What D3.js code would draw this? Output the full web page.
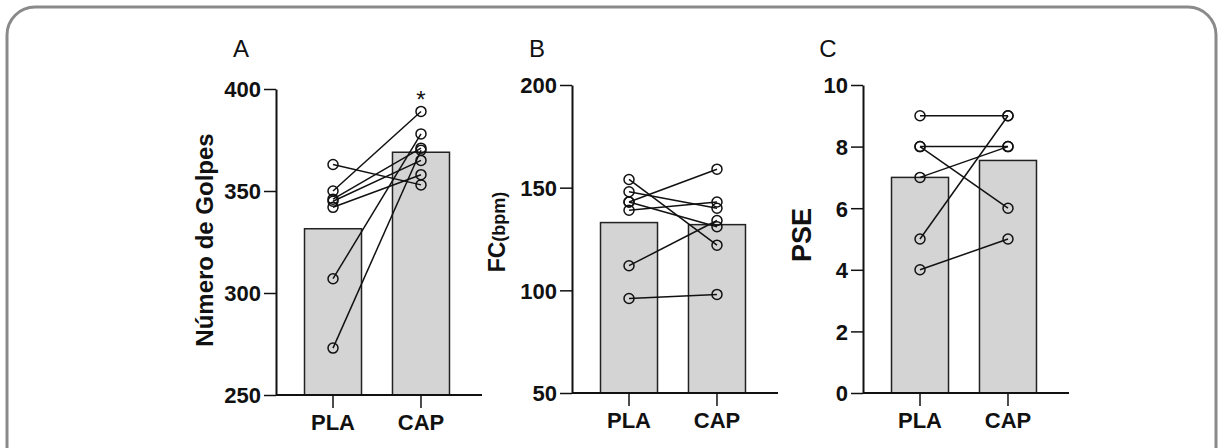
<!DOCTYPE html>
<html><head><meta charset="utf-8">
<script src="https://cdn.jsdelivr.net/npm/d3@7"></script>
<style>body{margin:0;background:#fff}svg{display:block}</style>
</head><body>
<svg id="c" width="1219" height="448"></svg>
<script>
const categories = ["PLA", "CAP"];
// Panel A: Número de Golpes
const golpesPLA = [363, 350, 346, 345, 342, 307, 273];
const golpesCAP = [353, 389, 371, 365, 358, 378, 370];
const golpesBars = [331.5, 369];
const golpesTicks = [250, 300, 350, 400];
// Panel B: FC (bpm)
const fcPLA = [154, 148, 143, 143, 139, 112, 96];
const fcCAP = [122, 140, 159, 131, 143, 134, 98];
const fcBars = [133, 132];
const fcTicks = [50, 100, 150, 200];
// Panel C: PSE
const psePLA = [9, 8, 8, 7, 5, 4];
const pseCAP = [9, 8, 6, 8, 9, 5];
const pseBars = [7.0, 7.55];
const pseTicks = [0, 2, 4, 6, 8, 10];

const svg = d3.select("#c");
const font = "'Liberation Sans', Arial, sans-serif";

svg.append("rect").attr("x", 7).attr("y", 7).attr("width", 1209).attr("height", 500)
  .attr("rx", 28).attr("fill", "none").attr("stroke", "#8a8a8a").attr("stroke-width", 3);

const panels = [
  {letter: "A", ax: 276, yTop: 89, yBot: 395, dom: [250, 400], ticks: golpesTicks, pla: golpesPLA, cap: golpesCAP, bars: golpesBars,
   label: "Número de Golpes", labelSize: 24, labelX: 204, labelY: 240, star: true},
  {letter: "B", ax: 572, yTop: 85, yBot: 393, dom: [50, 200], ticks: fcTicks, pla: fcPLA, cap: fcCAP, bars: fcBars,
   label: "FC", labelSize: 23, sub: "(bpm)", labelX: 497, labelY: 232},
  {letter: "C", ax: 863, yTop: 85, yBot: 393, dom: [0, 10], ticks: pseTicks, pla: psePLA, cap: pseCAP, bars: pseBars,
   label: "PSE", labelSize: 27, labelX: 801, labelY: 235}
];

panels.forEach(p => {
  const g = svg.append("g");
  const y = d3.scaleLinear().domain(p.dom).range([p.yBot, p.yTop]);
  const x = d3.scaleBand().domain(categories).range([p.ax, p.ax + 202]).paddingInner(0.352).paddingOuter(0.324);
  const cx = c => x(c) + x.bandwidth() / 2;

  g.selectAll("rect.bar").data(p.bars).join("rect")
    .attr("x", (d, i) => x(categories[i])).attr("y", d => y(d))
    .attr("width", x.bandwidth()).attr("height", d => p.yBot - y(d))
    .attr("fill", "#d4d4d4").attr("stroke", "#222").attr("stroke-width", 1.5);

  const ya = g.append("g").attr("transform", `translate(${p.ax},0)`)
    .call(d3.axisLeft(y).tickValues(p.ticks).tickSize(12).tickPadding(3).tickSizeOuter(0));
  ya.select(".domain").attr("stroke", "#111").attr("stroke-width", 2);
  ya.selectAll(".tick line").attr("stroke", "#111").attr("stroke-width", 1.5);
  ya.selectAll(".tick text").attr("font-family", font).attr("font-weight", "bold")
    .attr("font-size", 22).attr("fill", "#111").attr("dy", "0.36em");

  const xa = g.append("g").attr("transform", `translate(0,${p.yBot})`)
    .call(d3.axisBottom(x).tickSize(13).tickPadding(6).tickSizeOuter(0));
  xa.select(".domain").attr("d", `M${p.ax},0H${p.ax + 206}`).attr("stroke", "#111").attr("stroke-width", 2);
  xa.selectAll(".tick line").attr("stroke", "#111").attr("stroke-width", 1.5);
  xa.selectAll(".tick text").attr("font-family", font).attr("font-weight", "bold")
    .attr("font-size", 22).attr("fill", "#111");

  g.selectAll("line.pair").data(p.pla).join("line")
    .attr("x1", cx("PLA")).attr("y1", d => y(d))
    .attr("x2", cx("CAP")).attr("y2", (d, i) => y(p.cap[i]))
    .attr("stroke", "#111").attr("stroke-width", 1.5);

  const pts = [];
  p.pla.forEach(v => pts.push([cx("PLA"), y(v)]));
  p.cap.forEach(v => pts.push([cx("CAP"), y(v)]));
  g.selectAll("circle").data(pts).join("circle")
    .attr("cx", d => d[0]).attr("cy", d => d[1]).attr("r", 5)
    .attr("fill", "none").attr("stroke", "#111").attr("stroke-width", 1.5);

  svg.append("text").attr("x", p.ax - 35).attr("y", 57).attr("font-family", font)
    .attr("font-size", 24).attr("fill", "#111").attr("text-anchor", "middle").text(p.letter);

  const t = svg.append("text").attr("transform", `translate(${p.labelX},${p.labelY}) rotate(-90)`)
    .attr("text-anchor", "middle").attr("dy", "0.36em").attr("font-family", font).attr("font-weight", "bold")
    .attr("font-size", p.labelSize).attr("fill", "#111");
  t.append("tspan").text(p.label);
  if (p.sub) t.append("tspan").attr("font-size", 18).text(p.sub);

  if (p.star) {
    svg.append("text").attr("x", cx("CAP")).attr("y", 108).attr("text-anchor", "middle")
      .attr("font-family", font).attr("font-size", 24).attr("fill", "#111").text("*");
  }
});
</script>
</body></html>
